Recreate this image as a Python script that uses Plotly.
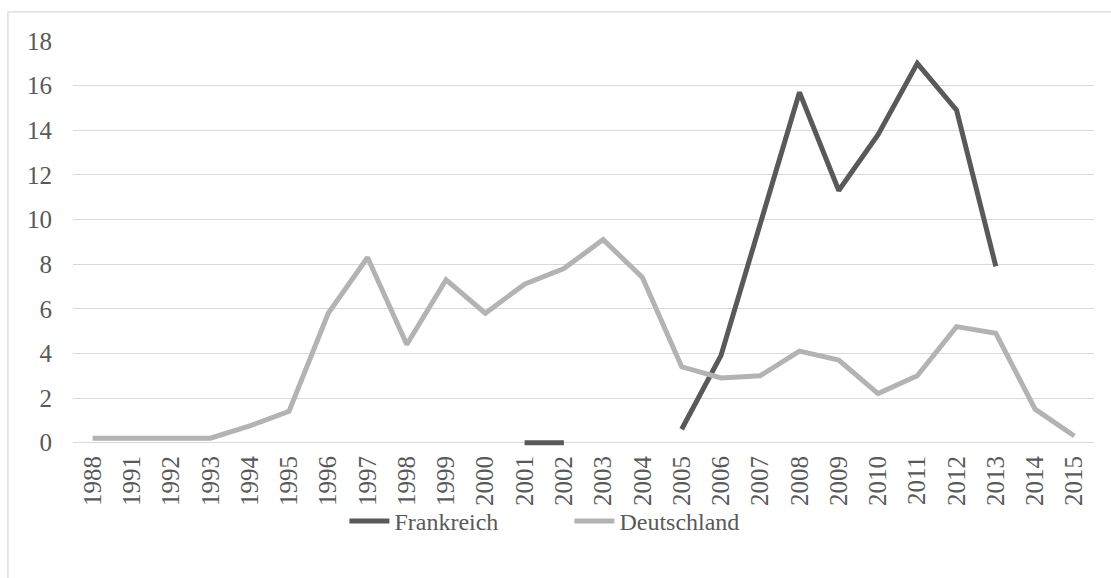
import plotly.graph_objects as go


# ====================================
# DATA
# ====================================

years = ["1988", "1991", "1992", "1993", "1994", "1995", "1996", "1997",
         "1998", "1999", "2000", "2001", "2002", "2003", "2004", "2005",
         "2006", "2007", "2008", "2009", "2010", "2011", "2012", "2013",
         "2014", "2015"]

frankreich = [None, None, None, None, None, None, None, None,
              None, None, None, 0, 0, None, None, 0.6,
              3.9, 9.8, 15.7, 11.3, 13.8, 17.0, 14.9, 7.9,
              None, None]

deutschland = [0.2, 0.2, 0.2, 0.2, 0.75, 1.4, 5.8, 8.3,
               4.4, 7.3, 5.8, 7.1, 7.8, 9.1, 7.4, 3.4,
               2.9, 3.0, 4.1, 3.7, 2.2, 3.0, 5.2, 4.9,
               1.5, 0.3]

y_ticks = [0, 2, 4, 6, 8, 10, 12, 14, 16, 18]

TEXT = "#595959"
FONT = "Liberation Serif"


# ====================================
# CHART
# ====================================

fig = go.Figure()

fig.add_trace(go.Scatter(
    x=years, y=frankreich, name="Frankreich", mode="lines",
    line=dict(color="#595959", width=5),
    connectgaps=False
))

fig.add_trace(go.Scatter(
    x=years, y=deutschland, name="Deutschland", mode="lines",
    line=dict(color="#b3b3b3", width=5),
    connectgaps=False
))

# plot area: y=0 at 443px, y=18 at 41px, small pad below 0 so the flat line isn't clipped
fig.update_layout(
    width=1111,
    height=578,
    paper_bgcolor="white",
    plot_bgcolor="white",
    font=dict(family=FONT, size=24, color=TEXT),
    margin=dict(l=73, r=17, t=41, b=131.65, autoexpand=False),
    showlegend=True,
    legend=dict(
        orientation="h",
        xref="container", yref="container",
        x=0.31, xanchor="left",
        y=0.098, yanchor="middle",
        bgcolor="rgba(0,0,0,0)",
        font=dict(size=24, color=TEXT),
        entrywidth=170,
        itemwidth=40
    ),
    xaxis=dict(
        type="category",
        range=[-0.5, len(years) - 0.5],
        tickangle=-90,
        showgrid=False,
        showline=False,
        ticks="",
        automargin=False,
        ticklabelstandoff=4,
        tickfont=dict(size=25, color=TEXT)
    ),
    yaxis=dict(
        range=[-0.15, 18],
        tickvals=y_ticks,
        showgrid=True,
        gridcolor="#d9d9d9",
        gridwidth=1.3,
        zeroline=False,
        showline=False,
        ticks="",
        automargin=False,
        ticklabelstandoff=20,
        tickfont=dict(size=25, color=TEXT)
    ),
    shapes=[dict(
        type="rect", xref="paper", yref="paper",
        x0=-0.0637, x1=1.2, y0=1.072, y1=-0.6,
        line=dict(color="#d9d9d9", width=1.3),
        fillcolor="rgba(0,0,0,0)",
        layer="below"
    )]
)

fig.write_html(
    "out.html",
    config={"displayModeBar": False},
    post_script="document.body.style.margin='0';document.body.style.overflow='hidden';"
)
